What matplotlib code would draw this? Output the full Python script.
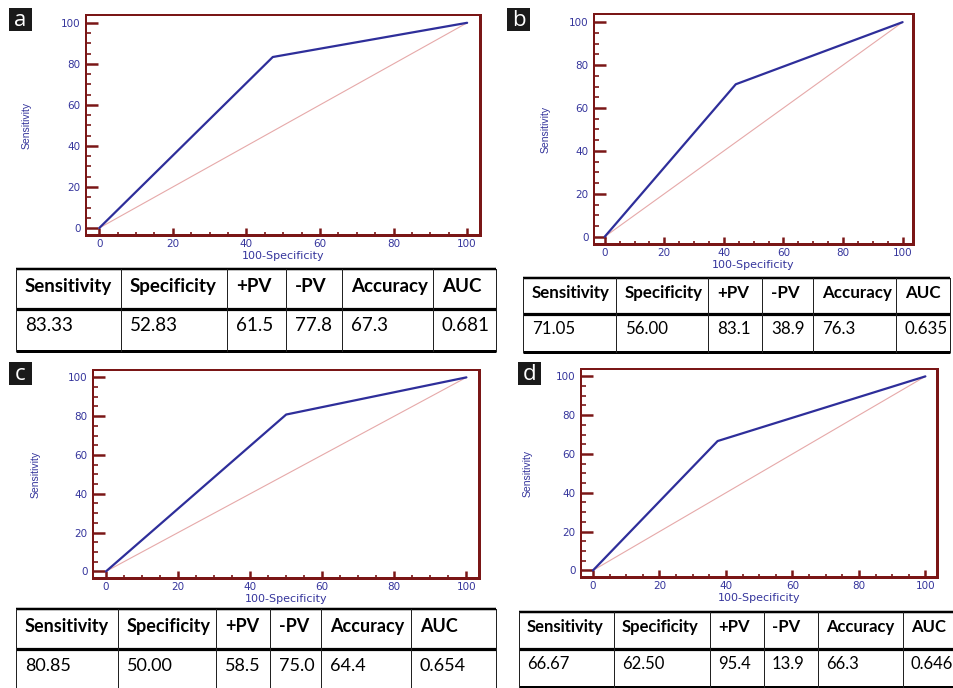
import matplotlib
matplotlib.use('Agg')
import matplotlib.pyplot as plt
from matplotlib.ticker import MultipleLocator
from matplotlib.patches import Rectangle

W, H = 954, 688

# ---------------- data ----------------
panel_labels = ['a', 'b', 'c', 'd']
sensitivity = [83.33, 71.05, 80.85, 66.67]
specificity = [52.83, 56.00, 50.00, 62.50]
ppv = [61.5, 83.1, 58.5, 95.4]
npv = [77.8, 38.9, 75.0, 13.9]
accuracy = [67.3, 76.3, 64.4, 66.3]
auc = [0.681, 0.635, 0.654, 0.646]
headers = ['Sensitivity', 'Specificity', '+PV', '-PV', 'Accuracy', 'AUC']
ticks = [0, 20, 40, 60, 80, 100]

# ---------------- layout (pixels) ----------------
frames = [(86, 15, 480, 235), (594, 14, 913, 244), (93, 370, 479, 578), (581, 369, 937, 577)]
label_boxes = [(9, 8), (507, 8), (9, 362), (518, 362)]
# table: column edges, top, separator, bottom, header baseline, data baseline, fontsize
tables = [
    dict(cols=[16, 121, 227, 286, 342, 433, 496], top=269, sep=309, bot=351, hb=292, db=331, fs=13.5, pad=9),
    dict(cols=[523, 616, 708, 762, 813, 896, 950], top=278, sep=314, bot=352, hb=298, db=334, fs=12.2, pad=9),
    dict(cols=[16, 118, 216, 270, 321, 411, 496], top=609, sep=649, bot=None, hb=632, db=671, fs=13.0, pad=9),
    dict(cols=[519, 614, 710, 764, 818, 903, 975], top=612, sep=649, bot=687, hb=632, db=669, fs=12.0, pad=8),
]

frame_color = '#7a1616'
blue = '#35359c'
roc_color = '#2e2e9a'
diag_color = '#e6a9a9'
PX = 0.72  # points per pixel at dpi 100

fig = plt.figure(figsize=(W / 100, H / 100), dpi=100)
fig.patch.set_facecolor('white')

bg = fig.add_axes([0, 0, 1, 1])
bg.set_xlim(0, W)
bg.set_ylim(H, 0)
bg.axis('off')

tab_font = ['Lato', 'DejaVu Sans']
narrow_font = ['DejaVu Sans Condensed', 'Liberation Sans Narrow', 'Liberation Sans', 'DejaVu Sans']

for i in range(4):
    x0, y0, x1, y1 = frames[i]
    ax = fig.add_axes([x0 / W, 1 - y1 / H, (x1 - x0) / W, (y1 - y0) / H])
    ax.set_xlim(-3.6, 103.5)
    ax.set_ylim(-3.4, 103.8)
    fx = [0, 100 - specificity[i], 100]
    fy = [0, sensitivity[i], 100]
    ax.plot([0, 100], [0, 100], color=diag_color, lw=0.8, zorder=2)
    ax.plot(fx, fy, color=roc_color, lw=1.6, zorder=3, solid_capstyle='round')
    for s in ['top', 'left']:
        ax.spines[s].set_linewidth(2.0 * PX)
        ax.spines[s].set_color(frame_color)
    for s in ['right', 'bottom']:
        ax.spines[s].set_linewidth(3 * PX)
        ax.spines[s].set_color(frame_color)
    ax.xaxis.set_major_locator(plt.FixedLocator(ticks))
    ax.yaxis.set_major_locator(plt.FixedLocator(ticks))
    ax.xaxis.set_minor_locator(MultipleLocator(5))
    ax.yaxis.set_minor_locator(MultipleLocator(5))
    ax.tick_params(axis='both', which='both', direction='in', color=frame_color,
                   labelcolor=blue, labelsize=7.5, top=False, right=False)
    ax.tick_params(axis='x', which='major', length=5, width=1.8, pad=3)
    ax.tick_params(axis='x', which='minor', length=2.3, width=1.2)
    ax.tick_params(axis='y', which='major', length=8.5, width=1.8, pad=4)
    ax.tick_params(axis='y', which='minor', length=3.8, width=1.2)
    ax.set_xlabel('100-Specificity', fontsize=8, color=blue, labelpad=1)
    ax.set_ylabel('Sensitivity', fontsize=7.5, color=blue, family=narrow_font)
    ax.yaxis.set_label_coords(-0.137, 0.5)

    # panel label
    lx, ly = label_boxes[i]
    bg.add_patch(Rectangle((lx, ly), 23, 23, facecolor='#1a1a1a', edgecolor='none'))
    bg.text(lx + 11.5, ly + 12.5, panel_labels[i], color='white', fontsize=16,
            ha='center', va='center', family=['Open Sans', 'DejaVu Sans'])

    # table
    t = tables[i]
    cols = t['cols']
    values = ['%.2f' % sensitivity[i], '%.2f' % specificity[i], '%.1f' % ppv[i],
              '%.1f' % npv[i], '%.1f' % accuracy[i], '%.3f' % auc[i]]
    bottom = t['bot'] if t['bot'] is not None else H + 5
    bg.plot([cols[0], cols[-1]], [t['top'], t['top']], color='black', lw=2.5 * PX, solid_capstyle='butt')
    bg.plot([cols[0], cols[-1]], [t['sep'], t['sep']], color='black', lw=3.2 * PX, solid_capstyle='butt')
    if t['bot'] is not None:
        bg.plot([cols[0], cols[-1]], [bottom, bottom], color='black', lw=3 * PX, solid_capstyle='butt')
    for cx in cols:
        bg.plot([cx, cx], [t['top'], bottom], color='#222222', lw=1.0 * PX)
    for j in range(6):
        bg.text(cols[j] + t['pad'], t['hb'], headers[j], fontsize=t['fs'], fontweight='bold',
                ha='left', va='baseline', family=tab_font, color='black')
        bg.text(cols[j] + t['pad'], t['db'], values[j], fontsize=t['fs'],
                ha='left', va='baseline', family=tab_font, color='black')

fig.savefig('out.png', dpi=100, facecolor='white')
